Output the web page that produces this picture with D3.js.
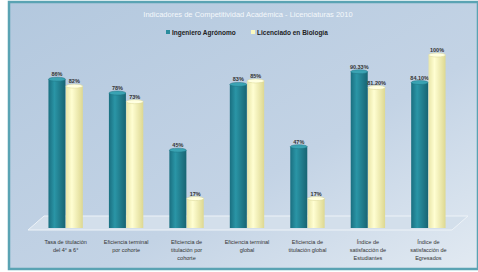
<!DOCTYPE html>
<meta charset="utf-8">
<style>
  body { margin: 0; background: #fff; }
  svg { font-family: "Liberation Sans", Arial, sans-serif; }
</style>
<svg width="478" height="272"></svg>
<script src="https://cdn.jsdelivr.net/npm/d3@7"></script>
<script>
// data
var categories = [
  ["Tasa de titulación", "del 4° a 6°"],
  ["Eficiencia terminal", "por cohorte"],
  ["Eficiencia de", "titulación por", "cohorte"],
  ["Eficiencia terminal", "global"],
  ["Eficiencia de", "titulación global"],
  ["Índice de", "satisfacción de", "Estudiantes"],
  ["Índice de", "satisfacción de", "Egresados"]
];
var series = ["Ingeniero Agrónomo", "Licenciado en Biología"];
var agronomo = [86, 78, 45, 83, 47, 90.33, 84.1];
var biologia = [82, 73, 17, 85, 17, 81.2, 100.0];
var title = "Indicadores de Competitividad Académica - Licenciaturas 2010";

var svg = d3.select("svg"),
    width = +svg.attr("width"),
    height = +svg.attr("height");

var defs = svg.append("defs");
var bg = defs.append("linearGradient").attr("id", "bg")
    .attr("x1", 0).attr("y1", 0).attr("x2", 1).attr("y2", 1);
bg.append("stop").attr("offset", "0%").attr("stop-color", "#b3c8de");
bg.append("stop").attr("offset", "60%").attr("stop-color", "#c3d3e5");
bg.append("stop").attr("offset", "100%").attr("stop-color", "#e2eaf2");

function cyl(id, c0, c1, c2) {
  var g = defs.append("linearGradient").attr("id", id)
      .attr("x1", 0).attr("y1", 0).attr("x2", 1).attr("y2", 0);
  g.append("stop").attr("offset", "0%").attr("stop-color", c0);
  g.append("stop").attr("offset", "35%").attr("stop-color", c1);
  g.append("stop").attr("offset", "100%").attr("stop-color", c2);
}
cyl("teal", "#1a6f80", "#2a95a6", "#186473");
cyl("yel", "#e9e6a8", "#fffed2", "#ddd891");
var colors = ["#2a8c9d", "#fbf9c0"];
var fills = ["url(#teal)", "url(#yel)"];

// panel
svg.append("rect").attr("x", 9).attr("y", 2).attr("width", width - 9).attr("height", 267)
    .attr("fill", "url(#bg)").attr("stroke", "#5aa3b3").attr("stroke-width", 2.5);

svg.append("text").attr("x", 248).attr("y", 17).attr("text-anchor", "middle")
    .attr("fill", "#f4f8fb").attr("font-size", 7.5)
    .text(title);

// legend
var leg = svg.append("g").attr("font-size", 6.5).attr("font-weight", "bold").attr("fill", "#222");
var legX = [166, 251];
series.forEach(function(s, i) {
  leg.append("rect").attr("x", legX[i]).attr("y", 30).attr("width", 4).attr("height", 4)
      .attr("fill", colors[i]);
  leg.append("text").attr("x", legX[i] + 6).attr("y", 34.5).text(s);
});

var x0 = d3.scaleBand().domain(d3.range(categories.length)).range([33, 461]).paddingInner(0.42).paddingOuter(0.25);
var x1 = d3.scaleBand().domain([0, 1]).range([0, x0.bandwidth()]).padding(0.02);
var y = d3.scaleLinear().domain([0, 100]).range([228, 55]);

// floor
var floor = svg.append("g");
floor.append("path")
    .attr("d", "M28,230 L452,230 L468,216 L44,216 Z")
    .attr("fill", "#d3dfeb").attr("stroke", "#eef3f8").attr("stroke-width", 1);

var groups = svg.append("g").selectAll("g")
  .data(categories).enter().append("g")
    .attr("transform", function(d, i) { return "translate(" + x0(i) + ",0)"; });

var fmt = function(v) { return (v % 1 === 0 ? v : v.toFixed(2)) + "%"; };

groups.each(function(d, i) {
  var g = d3.select(this);
  [agronomo[i], biologia[i]].forEach(function(v, s) {
    var bx = x1(s), bw = x1.bandwidth(), ty = y(v);
    g.append("rect").attr("x", bx).attr("y", ty).attr("width", bw).attr("height", y(0) - ty)
        .attr("fill", fills[s]);
    g.append("ellipse").attr("cx", bx + bw / 2).attr("cy", ty).attr("rx", bw / 2).attr("ry", 2)
        .attr("fill", s === 0 ? "#3aa3b3" : "#ffffe0")
        .attr("stroke", s === 0 ? "#1c7080" : "#d9d593").attr("stroke-width", 0.5);
    g.append("text").attr("x", bx + bw / 2).attr("y", ty - 3).attr("text-anchor", "middle")
        .attr("font-size", 5.5).attr("font-weight", "bold").attr("fill", "#333")
        .text(fmt(v));
  });
  var t = g.append("text").attr("text-anchor", "middle").attr("font-size", 5.5)
      .attr("fill", "#333");
  d.forEach(function(line, k) {
    t.append("tspan").attr("x", x0.bandwidth() / 2).attr("y", 244 + k * 8).text(line);
  });
});
</script>
